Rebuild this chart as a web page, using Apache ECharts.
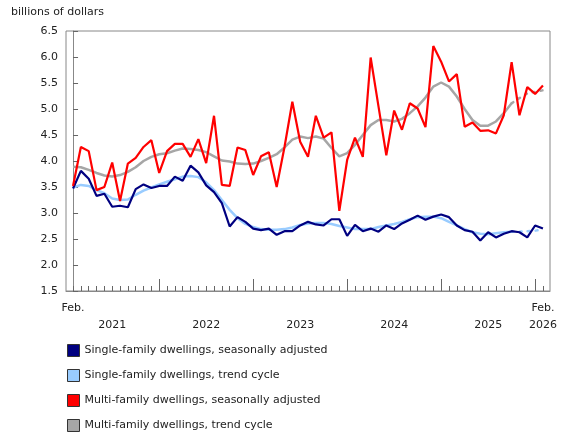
<!DOCTYPE html>
<html>
<head>
<meta charset="utf-8">
<script src="https://cdn.jsdelivr.net/npm/echarts@6/dist/echarts.min.js"></script>
<style>html,body{margin:0;padding:0;background:#fff}#chart{width:580px;height:435px}</style>
</head>
<body>
<div id="chart"></div>
<script>
// month index 0 = Feb. 2021 ... 60 = Feb. 2026
var singleSA = [3.47,3.81,3.66,3.33,3.37,3.12,3.14,3.11,3.46,3.55,3.48,3.52,3.52,3.70,3.62,3.91,3.78,3.53,3.40,3.19,
  2.74,2.92,2.83,2.70,2.67,2.70,2.58,2.65,2.65,2.76,2.83,2.78,2.76,2.88,2.88,2.56,2.77,2.65,2.70,2.64,
  2.76,2.69,2.80,2.87,2.95,2.87,2.93,2.97,2.92,2.76,2.67,2.64,2.47,2.63,2.53,2.60,2.65,2.63,2.53,2.76,2.70];
var singleTC = [3.49,3.54,3.52,3.44,3.38,3.28,3.25,3.26,3.35,3.43,3.49,3.55,3.60,3.65,3.70,3.71,3.69,3.59,3.44,3.25,
  3.06,2.90,2.79,2.73,2.69,2.68,2.68,2.69,2.72,2.77,2.80,2.81,2.81,2.79,2.75,2.72,2.69,2.69,2.69,2.73,
  2.76,2.79,2.83,2.88,2.92,2.93,2.93,2.90,2.83,2.76,2.69,2.63,2.60,2.59,2.61,2.63,2.64,2.64,2.65,2.66,2.68];
var multiSA = [3.52,4.27,4.19,3.44,3.50,3.97,3.23,3.95,4.06,4.27,4.40,3.77,4.19,4.33,4.33,4.08,4.42,3.96,4.87,3.54,
  3.52,4.26,4.21,3.73,4.09,4.17,3.50,4.27,5.14,4.37,4.08,4.87,4.45,4.55,3.04,4.02,4.45,4.08,5.99,5.05,
  4.11,4.97,4.60,5.11,5.01,4.65,6.21,5.91,5.53,5.67,4.66,4.74,4.58,4.59,4.53,4.88,5.90,4.88,5.42,5.29,5.45];
var multiTC = [3.89,3.88,3.83,3.77,3.72,3.70,3.73,3.79,3.88,4.00,4.08,4.13,4.15,4.20,4.24,4.23,4.21,4.17,4.09,4.01,
  3.99,3.95,3.94,3.95,4.00,4.06,4.13,4.26,4.41,4.47,4.44,4.47,4.43,4.25,4.09,4.15,4.31,4.50,4.69,4.79,
  4.79,4.76,4.81,4.92,5.05,5.22,5.43,5.51,5.43,5.24,5.00,4.79,4.68,4.68,4.76,4.92,5.11,5.21,5.30,5.33,5.36];
var lastFirm = 56; // trend cycle drawn dotted after this month
var yearLabels = {0:'Feb.\n ',5:' \n2021',17:' \n2022',29:' \n2023',41:' \n2024',53:' \n2025',60:'Feb.\n2026'};
var majorTicks = [11,23,35,47,59];
var legendNames = ['Single-family dwellings, seasonally adjusted','Single-family dwellings, trend cycle',
  'Multi-family dwellings, seasonally adjusted','Multi-family dwellings, trend cycle'];
var legendColors = ['#000080','#99ccff','#ff0000','#a6a6a6'];

function pairs(arr, from, to){
  var out=[];
  for(var i=from;i<=to;i++){ out.push([i,arr[i]]); }
  return out;
}
var minorTicks=[];
for(var i=0;i<=60;i++){ minorTicks.push(i); }

var font = 'DejaVu Sans';
var legends=[];
for(var k=0;k<legendNames.length;k++){
  legends.push({left:62,top:339+k*25,itemWidth:12,itemHeight:12,icon:'rect',
    textStyle:{fontSize:11,color:'#222',fontFamily:font},
    data:[{name:legendNames[k],itemStyle:{color:legendColors[k],borderColor:'#333',borderWidth:1}}]});
}
var myChart = echarts.init(document.getElementById('chart'));
var option = {
  animation:false,
  textStyle:{fontFamily:font},
  title:{text:'billions of dollars',left:6,top:2,textStyle:{fontSize:11,fontWeight:'normal',color:'#222',fontFamily:font}},
  grid:{left:66,right:30,top:31,bottom:144,show:true,borderColor:'#888',borderWidth:1},
  legend:legends,
  xAxis:[
    {type:'value',min:-0.9,max:60.9,
      axisLine:{lineStyle:{color:'#888'}},
      splitLine:{show:false},
      axisTick:{inside:true,length:5,customValues:minorTicks,lineStyle:{color:'#666'}},
      axisLabel:{customValues:Object.keys(yearLabels).map(Number),fontSize:11,color:'#222',lineHeight:17,margin:9,
        formatter:function(v){ return yearLabels[v]||''; }}
    },
    {type:'value',min:-0.9,max:60.9,position:'bottom',
      axisLine:{show:false},splitLine:{show:false},axisLabel:{show:false},
      axisTick:{inside:true,length:12,customValues:majorTicks,lineStyle:{color:'#666'}}
    }
  ],
  yAxis:{type:'value',min:1.5,max:6.5,interval:0.5,
    axisLine:{show:true,lineStyle:{color:'#888'}},
    axisTick:{show:true,inside:true,length:5,lineStyle:{color:'#666'}},
    splitLine:{show:false},
    axisLabel:{fontSize:11,color:'#222',formatter:function(v){return v.toFixed(1);}}
  },
  series:[
    {name:legendNames[1],type:'line',showSymbol:false,data:pairs(singleTC,0,lastFirm),
      lineStyle:{color:'#99ccff',width:2.5},itemStyle:{color:'#99ccff'}},
    {name:legendNames[1],type:'line',showSymbol:false,data:pairs(singleTC,lastFirm,60),
      lineStyle:{color:'#99ccff',width:2.5,type:[2,6],cap:'round'},itemStyle:{color:'#99ccff'}},
    {name:legendNames[0],type:'line',showSymbol:false,data:pairs(singleSA,0,60),
      lineStyle:{color:'#000080',width:2.2},itemStyle:{color:'#000080'}},
    {name:legendNames[3],type:'line',showSymbol:false,data:pairs(multiTC,0,lastFirm),
      lineStyle:{color:'#a6a6a6',width:2.5},itemStyle:{color:'#a6a6a6'}},
    {name:legendNames[3],type:'line',showSymbol:false,data:pairs(multiTC,lastFirm,60),
      lineStyle:{color:'#a6a6a6',width:2.5,type:[2,6],cap:'round'},itemStyle:{color:'#a6a6a6'}},
    {name:legendNames[2],type:'line',showSymbol:false,data:pairs(multiSA,0,60),
      lineStyle:{color:'#ff0000',width:2.2},itemStyle:{color:'#ff0000'}}
  ]
};
myChart.setOption(option);
window.addEventListener("resize",function(){ myChart.resize(); });
</script>
</body>
</html>
